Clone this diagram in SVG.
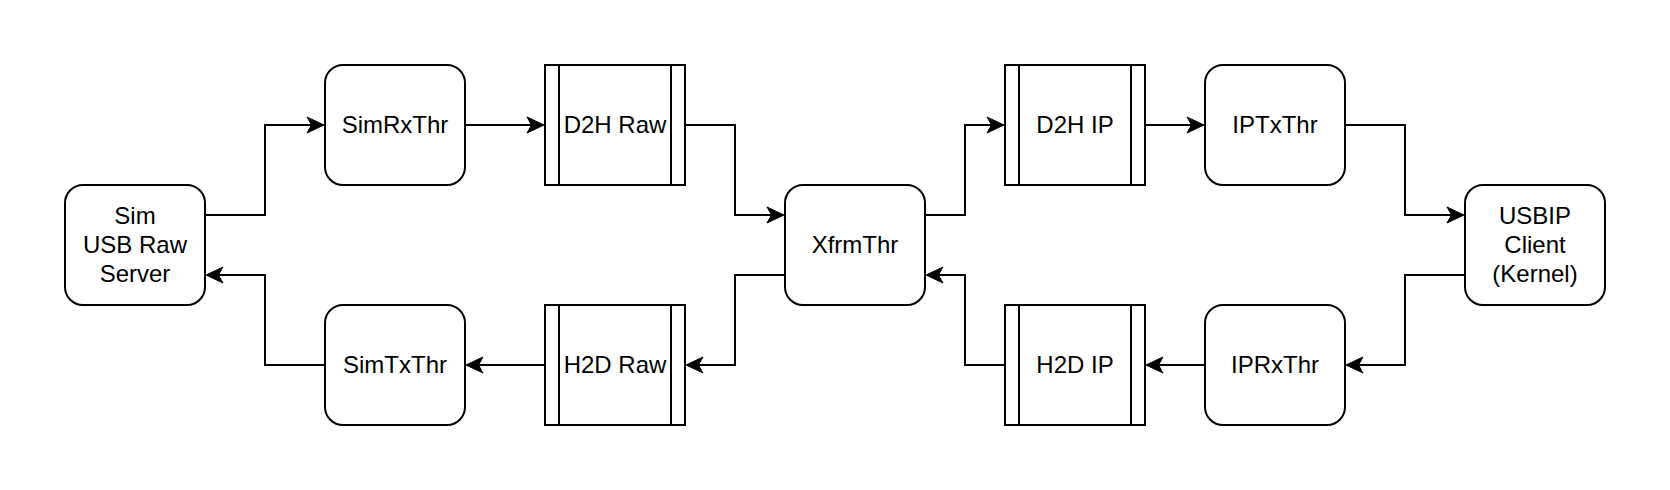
<svg xmlns="http://www.w3.org/2000/svg" width="1670" height="490" viewBox="0 0 1670 490">
  <style>
    .box { fill: #ffffff; stroke: #000000; stroke-width: 2; }
    .lbl { font-family: "Liberation Sans", Arial, sans-serif; font-size: 24px; fill: #000000; text-anchor: middle; }
    .edge { fill: none; stroke: #000000; stroke-width: 2; marker-end: url(#arrow); }
  </style>
  <defs>
    <marker id="arrow" markerUnits="userSpaceOnUse" markerWidth="22" markerHeight="22" viewBox="-19 -11 22 22" refX="0" refY="0" orient="auto">
      <path d="M1,0 L-16,-8 L-11.5,0 L-16,8 Z" fill="#000000" stroke="#000000" stroke-width="1" stroke-linejoin="miter"/>
    </marker>
  </defs>
  <rect width="1670" height="490" fill="#ffffff"/>

  <g id="connectors">
    <polyline class="edge" points="205,215 265,215 265,125 323,125"/>
    <polyline class="edge" points="465,125 543,125"/>
    <polyline class="edge" points="685,125 735,125 735,215 783,215"/>
    <polyline class="edge" points="925,215 965,215 965,125 1003,125"/>
    <polyline class="edge" points="1145,125 1203,125"/>
    <polyline class="edge" points="1345,125 1405,125 1405,215 1463,215"/>
    <polyline class="edge" points="1465,275 1405,275 1405,365 1347,365"/>
    <polyline class="edge" points="1205,365 1147,365"/>
    <polyline class="edge" points="1005,365 965,365 965,275 927,275"/>
    <polyline class="edge" points="785,275 735,275 735,365 687,365"/>
    <polyline class="edge" points="545,365 467,365"/>
    <polyline class="edge" points="325,365 265,365 265,275 207,275"/>
  </g>

  <g id="sim-usb-raw-server">
    <rect class="box" x="65" y="185" width="140" height="120" rx="18" ry="18"/>
    <text class="lbl" x="135" y="224">Sim</text>
    <text class="lbl" x="135" y="253">USB Raw</text>
    <text class="lbl" x="135" y="282">Server</text>
  </g>

  <g id="simrxthr">
    <rect class="box" x="325" y="65" width="140" height="120" rx="18" ry="18"/>
    <text class="lbl" x="395" y="133">SimRxThr</text>
  </g>

  <g id="simtxthr">
    <rect class="box" x="325" y="305" width="140" height="120" rx="18" ry="18"/>
    <text class="lbl" x="395" y="373">SimTxThr</text>
  </g>

  <g id="d2h-raw">
    <rect class="box" x="545" y="65" width="140" height="120"/>
    <line x1="559" y1="65" x2="559" y2="185" stroke="#000" stroke-width="2"/>
    <line x1="671" y1="65" x2="671" y2="185" stroke="#000" stroke-width="2"/>
    <text class="lbl" x="615" y="133">D2H Raw</text>
  </g>

  <g id="h2d-raw">
    <rect class="box" x="545" y="305" width="140" height="120"/>
    <line x1="559" y1="305" x2="559" y2="425" stroke="#000" stroke-width="2"/>
    <line x1="671" y1="305" x2="671" y2="425" stroke="#000" stroke-width="2"/>
    <text class="lbl" x="615" y="373">H2D Raw</text>
  </g>

  <g id="xfrmthr">
    <rect class="box" x="785" y="185" width="140" height="120" rx="18" ry="18"/>
    <text class="lbl" x="855" y="253">XfrmThr</text>
  </g>

  <g id="d2h-ip">
    <rect class="box" x="1005" y="65" width="140" height="120"/>
    <line x1="1019" y1="65" x2="1019" y2="185" stroke="#000" stroke-width="2"/>
    <line x1="1131" y1="65" x2="1131" y2="185" stroke="#000" stroke-width="2"/>
    <text class="lbl" x="1075" y="133">D2H IP</text>
  </g>

  <g id="h2d-ip">
    <rect class="box" x="1005" y="305" width="140" height="120"/>
    <line x1="1019" y1="305" x2="1019" y2="425" stroke="#000" stroke-width="2"/>
    <line x1="1131" y1="305" x2="1131" y2="425" stroke="#000" stroke-width="2"/>
    <text class="lbl" x="1075" y="373">H2D IP</text>
  </g>

  <g id="iptxthr">
    <rect class="box" x="1205" y="65" width="140" height="120" rx="18" ry="18"/>
    <text class="lbl" x="1275" y="133">IPTxThr</text>
  </g>

  <g id="iprxthr">
    <rect class="box" x="1205" y="305" width="140" height="120" rx="18" ry="18"/>
    <text class="lbl" x="1275" y="373">IPRxThr</text>
  </g>

  <g id="usbip-client">
    <rect class="box" x="1465" y="185" width="140" height="120" rx="18" ry="18"/>
    <text class="lbl" x="1535" y="224">USBIP</text>
    <text class="lbl" x="1535" y="253">Client</text>
    <text class="lbl" x="1535" y="282">(Kernel)</text>
  </g>
</svg>
